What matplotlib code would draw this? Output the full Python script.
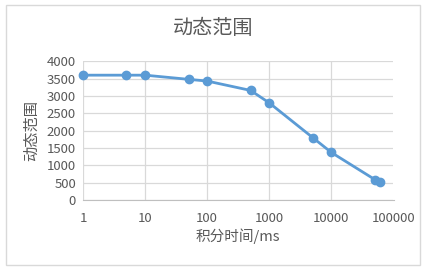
import matplotlib
matplotlib.use('agg')
import matplotlib.pyplot as plt
from matplotlib.patches import Rectangle
from matplotlib.ticker import FixedLocator, FuncFormatter

plt.rcParams['font.family'] = ['Noto Sans CJK SC', 'DejaVu Sans']

# integration time (ms) vs dynamic range
int_time = [1, 5, 10, 50, 100, 500, 1000, 5000, 10000, 50000, 60000]
dyn_range = [3600, 3600, 3600, 3480, 3430, 3160, 2800, 1800, 1370, 590, 530]
x_ticks = [1, 10, 100, 1000, 10000, 100000]
y_ticks = [0, 500, 1000, 1500, 2000, 2500, 3000, 3500, 4000]

title = '动态范围'
y_label = '动态范围'
x_label = '积分时间/ms'

text_col = '#595959'
grid_col = '#d9d9d9'
line_col = '#5b9bd5'

fig = plt.figure(figsize=(4.31, 2.76), dpi=100)
fig.patch.set_facecolor('white')
# outer chart border
fig.add_artist(Rectangle((6.5 / 431, 1 - 265 / 276), (420 - 6.5) / 431, (265 - 5) / 276,
                         transform=fig.transFigure, fill=False, edgecolor='#d9d9d9', lw=1))

ax = fig.add_axes([83 / 431, 1 - 200 / 276, (393.5 - 83) / 431, (200 - 61.3) / 276])
ax.plot(int_time, dyn_range, '-o', color=line_col, lw=2, markersize=6, clip_on=False, zorder=3)
ax.set_xscale('log')
ax.set_xlim(1, 100000)
ax.set_ylim(0, 4000)
ax.xaxis.set_major_locator(FixedLocator(x_ticks))
ax.xaxis.set_minor_locator(FixedLocator([]))
ax.xaxis.set_major_formatter(FuncFormatter(lambda v, p: '%d' % v))
ax.set_yticks(y_ticks)

ax.grid(True, color=grid_col, lw=0.9)
ax.set_axisbelow(True)
for s in ['top', 'right', 'left']:
    ax.spines[s].set_visible(False)
ax.spines['bottom'].set_color('#bfbfbf')
ax.tick_params(length=0, labelsize=9.5, labelcolor=text_col, pad=5)
ax.tick_params(axis='x', pad=9)

ax.set_xlabel(x_label, fontsize=10.5, color=text_col, labelpad=2)
ax.set_ylabel(y_label, fontsize=11, color=text_col, labelpad=5)
fig.text(213 / 431, 1 - 28 / 276, title, ha='center', va='center', fontsize=14.5, color=text_col)

fig.savefig('out.png', dpi=100)
